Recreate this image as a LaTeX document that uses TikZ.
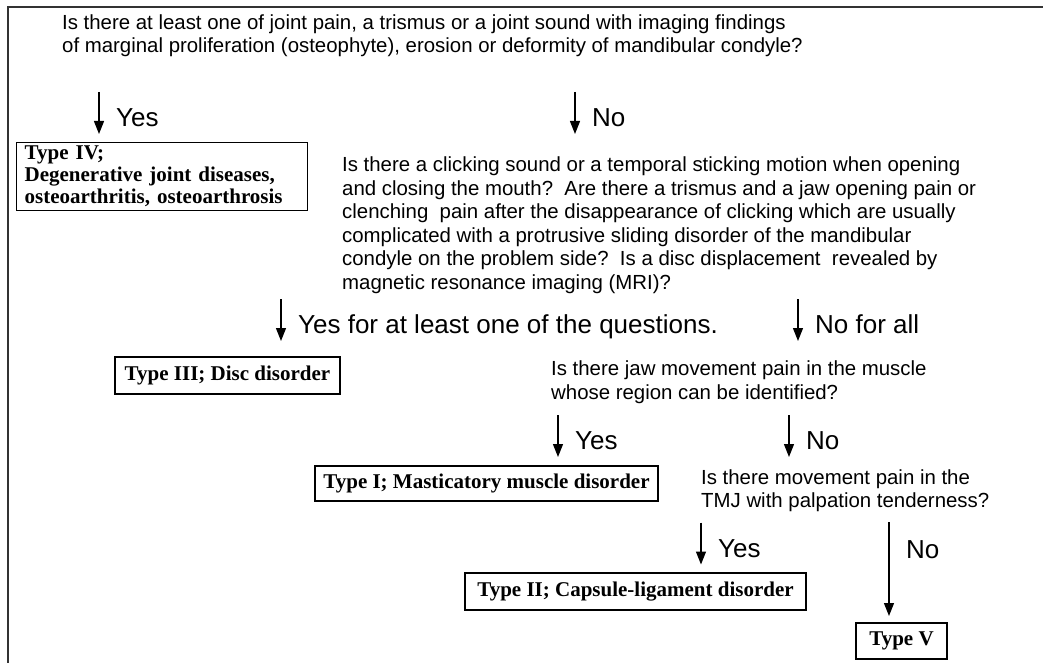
\documentclass[tikz,border=0pt]{standalone}
\usepackage{fontspec}
\setmainfont{Liberation Sans}
\newfontfamily\typefont{Liberation Serif}
\usetikzlibrary{arrows.meta,positioning}

\tikzset{
  question/.style={anchor=base west, align=left, inner sep=0pt,
                   font=\fontsize{20.4}{23.5}\selectfont},
  answer/.style={anchor=base west, inner sep=0pt, xshift=16.5pt, yshift=-13.5pt,
                 font=\fontsize{26}{28}\selectfont},
  typebox/.style={draw, line width=1.3pt, inner sep=0pt,
                  font=\typefont\bfseries\fontsize{21}{22}\selectfont},
  flow/.style={-{Triangle[width=10pt,length=13pt]}, line width=1.3pt},
}

\begin{document}
\begin{tikzpicture}[x=1pt,y=-1pt]
  \useasboundingbox (0,0) rectangle (1043,663);
  % Frame
  \draw[line width=2.2pt, black!80] (8,663) -- (8,7) -- (1043,7);
  % Questions (anchored at the baseline of their last line)
  \node[question] (q1) at (62,52.8) {Is there at least one of joint pain, a trismus or a joint sound with imaging findings\\
    of marginal proliferation (osteophyte), erosion or deformity of mandibular condyle?};
  \node[question] (q2) at (342,289.3) {Is there a clicking sound or a temporal sticking motion when opening\\
    and closing the mouth?\ \ Are there a trismus and a jaw opening pain or\\
    clenching\ \ pain after the disappearance of clicking which are usually\\
    complicated with a protrusive sliding disorder of the mandibular\\
    condyle on the problem side?\ \ Is a disc displacement\ \ revealed by\\
    magnetic resonance imaging (MRI)?};
  \node[question] (q3) at (551,399.3) {Is there jaw movement pain in the muscle\\
    whose region can be identified?};
  \node[question] (q4) at (701,507.8) {Is there movement pain in the\\
    TMJ with palpation tenderness?};
  % Types
  \node[typebox, anchor=north west, align=left, inner xsep=8pt, text width=275pt,
        minimum height=68pt] (t4) at (16,142) {Type IV;\\
    Degenerative joint diseases,\\osteoarthritis, osteoarthrosis};
  \node[typebox, minimum width=225pt, minimum height=37pt] (t3) at (227.5,375.5) {Type III; Disc disorder};
  \node[typebox, minimum width=343pt, minimum height=35pt] (t1) at (486.5,483.5) {Type I; Masticatory muscle disorder};
  \node[typebox, minimum width=341pt, minimum height=37pt] (t2) at (635.5,591.5) {Type II; Capsule-ligament disorder};
  \node[typebox, minimum width=91pt, minimum height=36pt] (t5) at (901.5,641) {Type V};
  % Arrows
  \foreach \n/\x/\y/\l in {1/99/92/Yes, 2/575/92/No, 3/281/299/Yes for at least one of the questions.,
                           4/798/299/No for all, 5/558/415/Yes, 6/789/415/No, 7/701/522.5/Yes} {
    \coordinate (s\n) at (\x,\y);
    \coordinate (e\n) at (\x,\y+42);
    \draw[flow] (s\n) -- node[answer] {\l} (e\n);
  }
  \coordinate (s8) at (889,522);
  \coordinate (e8) at (889,616);
  \draw[flow] (s8) -- node[answer, pos=0.24] {No} (e8);
\end{tikzpicture}
\end{document}
